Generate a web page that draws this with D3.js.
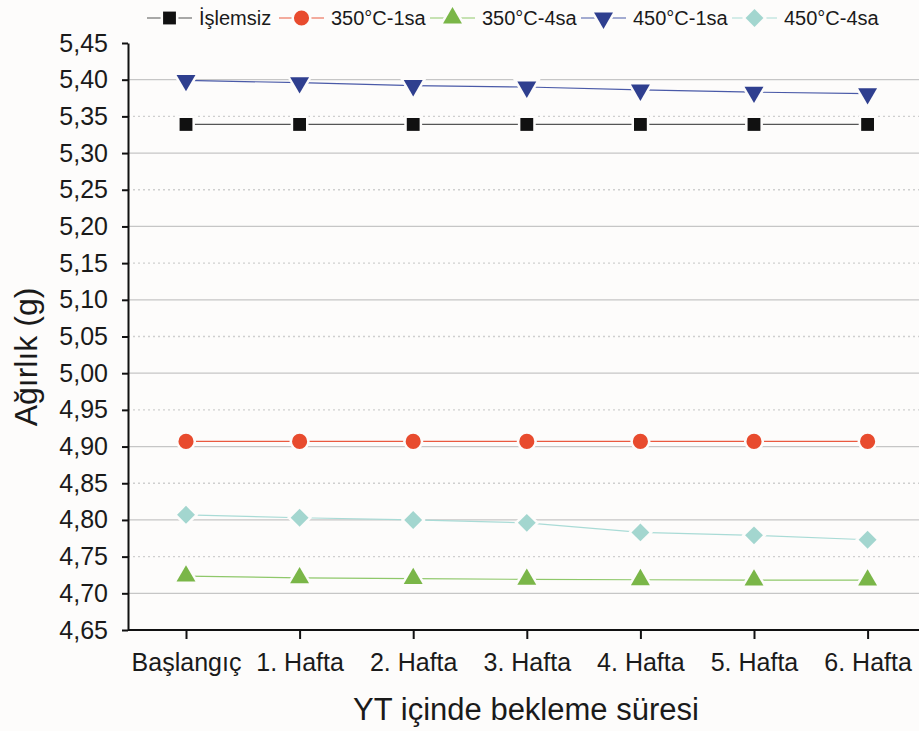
<!DOCTYPE html>
<html>
<head>
<meta charset="utf-8">
<script src="https://d3js.org/d3.v7.min.js"></script>
<style>
  body { margin: 0; background: #fdfcfb; }
  svg { display: block; font-family: "Liberation Sans", Arial, sans-serif; }
</style>
</head>
<body>
<div id="container"></div>
<script>
  // data
  const categories = ["Başlangıç", "1. Hafta", "2. Hafta", "3. Hafta", "4. Hafta", "5. Hafta", "6. Hafta"];
  const islemsiz = [5.339, 5.339, 5.339, 5.339, 5.339, 5.339, 5.339];
  const c350_1sa = [4.907, 4.907, 4.907, 4.907, 4.907, 4.907, 4.907];
  const c350_4sa = [4.7235, 4.721, 4.720, 4.719, 4.7185, 4.718, 4.718];
  const c450_1sa = [5.399, 5.396, 5.392, 5.390, 5.386, 5.383, 5.381];
  const c450_4sa = [4.807, 4.803, 4.800, 4.796, 4.783, 4.779, 4.773];
  const seriesNames = ["İşlemsiz", "350°C-1sa", "350°C-4sa", "450°C-1sa", "450°C-4sa"];
  const yTicks = [4.65, 4.70, 4.75, 4.80, 4.85, 4.90, 4.95, 5.00, 5.05, 5.10, 5.15, 5.20, 5.25, 5.30, 5.35, 5.40, 5.45];

  const series = [
    { name: seriesNames[0], values: islemsiz, shape: "square", fill: "#111111", line: "#555555" },
    { name: seriesNames[1], values: c350_1sa, shape: "circle", fill: "#e84b2e", line: "#ea5a40" },
    { name: seriesNames[2], values: c350_4sa, shape: "triangleUp", fill: "#7ab648", line: "#8fc86a" },
    { name: seriesNames[3], values: c450_1sa, shape: "triangleDown", fill: "#2f3f8f", line: "#4a5aa8" },
    { name: seriesNames[4], values: c450_4sa, shape: "diamond", fill: "#a3d6cf", line: "#a9dbd6" }
  ];

  const W = 919, H = 731;
  const margin = { top: 43, right: 0, bottom: 101, left: 128 };
  const width = W - margin.left - margin.right;
  const height = H - margin.top - margin.bottom;
  const bg = "#fdfcfb";
  const font = "Liberation Sans, Arial, sans-serif";

  const svg = d3.select("#container").append("svg")
    .attr("width", W).attr("height", H);
  svg.append("rect").attr("width", W).attr("height", H).attr("fill", bg);

  const g = svg.append("g").attr("transform", `translate(${margin.left},${margin.top})`);

  // step of ~113.6px, plot runs a bit past the right edge
  const x = d3.scalePoint().domain(categories).range([58, 58 + 6 * 113.6]);
  const y = d3.scaleLinear().domain([4.65, 5.45]).range([height, 0]);

  // grid: solid every 0.10, dotted on the in-between 0.05
  yTicks.slice(1, -1).forEach((t, i) => {
    const solid = i % 2 === 0;
    g.append("line")
      .attr("x1", 0).attr("x2", W)
      .attr("y1", y(t)).attr("y2", y(t))
      .attr("stroke", solid ? "#c6c6c6" : "#cfcfcf")
      .attr("stroke-width", 1.3)
      .attr("stroke-dasharray", solid ? null : "2,3");
  });

  const fmt = d => d3.format(".2f")(d).replace(".", ",");

  const yAxis = g.append("g")
    .call(d3.axisLeft(y).tickValues(yTicks).tickFormat(fmt).tickSize(6).tickSizeOuter(0));
  yAxis.select(".domain").attr("stroke", "#111").attr("stroke-width", 2);
  yAxis.selectAll(".tick line").attr("stroke", "#111").attr("stroke-width", 2);
  yAxis.selectAll(".tick text").attr("font-size", 25).attr("fill", "#1a1a1a")
    .attr("x", -20).attr("font-family", font);

  const xAxis = g.append("g").attr("transform", `translate(0,${height})`)
    .call(d3.axisBottom(x).tickSize(9).tickSizeOuter(0).tickPadding(14));
  xAxis.select(".domain").attr("d", `M0,0H${W}`).attr("stroke", "#111").attr("stroke-width", 2);
  xAxis.selectAll(".tick line").attr("stroke", "#111").attr("stroke-width", 2);
  xAxis.selectAll(".tick text").attr("font-size", 25).attr("fill", "#1a1a1a")
    .attr("font-family", font);

  // axis titles
  svg.append("text")
    .attr("x", 526).attr("y", 720)
    .attr("text-anchor", "middle")
    .attr("font-size", 31).attr("fill", "#1a1a1a")
    .text("YT içinde bekleme süresi");
  svg.append("text")
    .attr("transform", "translate(37,357) rotate(-90)")
    .attr("text-anchor", "middle")
    .attr("font-size", 32).attr("fill", "#1a1a1a")
    .text("Ağırlık (g)");

  const symbolFor = shape => ({
    square: d3.symbol().type(d3.symbolSquare).size(165),
    circle: d3.symbol().type(d3.symbolCircle).size(180),
    triangleUp: d3.symbol().type(d3.symbolTriangle).size(155),
    triangleDown: d3.symbol().type(d3.symbolTriangle).size(155),
    diamond: d3.symbol().type(d3.symbolSquare).size(160)
  })[shape];

  const rotFor = shape => shape === "triangleDown" ? 180 : shape === "diamond" ? 45 : 0;

  const line = d3.line().x((d, i) => x(categories[i])).y(d => y(d));

  series.forEach(s => {
    g.append("path")
      .attr("d", line(s.values))
      .attr("fill", "none")
      .attr("stroke", s.line)
      .attr("stroke-width", 1.2);
    g.append("g").selectAll("path")
      .data(s.values)
      .join("path")
      .attr("d", symbolFor(s.shape))
      .attr("transform", (d, i) => `translate(${x(categories[i])},${y(d)}) rotate(${rotFor(s.shape)})`)
      .attr("fill", s.fill)
      .attr("stroke", bg)
      .attr("stroke-width", 5)
      .attr("paint-order", "stroke");
  });

  // legend across the top
  const legendX = [147, 279, 430, 581, 732];
  const legend = svg.append("g");
  series.forEach((s, i) => {
    const lg = legend.append("g").attr("transform", `translate(${legendX[i]},18)`);
    lg.append("line").attr("x1", 0).attr("x2", 45).attr("y1", 0).attr("y2", 0)
      .attr("stroke", s.line).attr("stroke-width", 1.2);
    lg.append("path")
      .attr("d", symbolFor(s.shape))
      .attr("transform", `translate(22.5,0) rotate(${rotFor(s.shape)})`)
      .attr("fill", s.fill)
      .attr("stroke", bg).attr("stroke-width", 5).attr("paint-order", "stroke");
    lg.append("text")
      .attr("x", 52).attr("y", 7)
      .attr("font-size", 20).attr("fill", "#1a1a1a")
      .text(s.name);
  });
</script>
</body>
</html>
